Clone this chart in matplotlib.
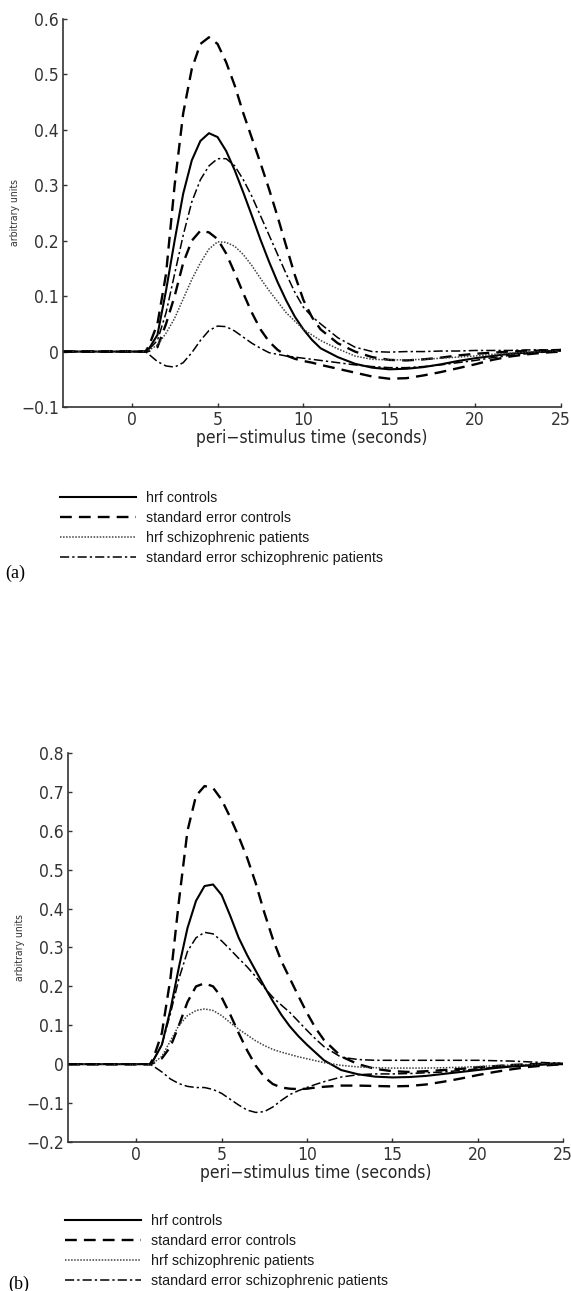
import matplotlib
matplotlib.use("Agg")
import matplotlib.pyplot as plt

# time axis (seconds), shared by every curve
t = [-4, 0.8, 1, 1.5, 2, 2.5, 3, 3.5, 4, 4.5, 5, 5.5, 6, 6.5, 7, 7.5, 8, 8.5, 9, 9.5,
     10, 10.5, 11, 12, 13, 14, 15, 16, 17, 18, 19, 20, 21, 22, 23, 24, 25]

# panel (a)
a_hrf_ctrl = [0, 0, 0.005, 0.03, 0.11, 0.2, 0.285, 0.345, 0.38, 0.394, 0.387, 0.362, 0.327, 0.287,
              0.245, 0.202, 0.162, 0.125, 0.092, 0.063, 0.04, 0.021, 0.006, -0.01, -0.022, -0.029,
              -0.032, -0.031, -0.028, -0.023, -0.017, -0.012, -0.008, -0.004, -0.002, 0, 0.003]
a_se_ctrl_hi = [0, 0, 0.01, 0.05, 0.14, 0.3, 0.43, 0.51, 0.555, 0.567, 0.555, 0.522, 0.48, 0.43,
                0.385, 0.34, 0.293, 0.243, 0.19, 0.138, 0.093, 0.062, 0.04, 0.015, 0.0, -0.01,
                -0.015, -0.016, -0.014, -0.011, -0.007, -0.004, -0.002, 0, 0.001, 0.002, 0.003]
a_se_ctrl_lo = [0, 0, 0.001, 0.008, 0.05, 0.1, 0.16, 0.2, 0.218, 0.215, 0.203, 0.177, 0.142, 0.105,
                0.07, 0.04, 0.018, 0.003, -0.007, -0.013, -0.017, -0.02, -0.024, -0.031, -0.038,
                -0.045, -0.049, -0.048, -0.043, -0.037, -0.03, -0.023, -0.015, -0.009, -0.005, -0.002, 0]
a_hrf_schz = [0, 0, 0.002, 0.012, 0.033, 0.06, 0.095, 0.13, 0.16, 0.185, 0.198, 0.197, 0.19, 0.175,
              0.155, 0.132, 0.11, 0.09, 0.07, 0.055, 0.04, 0.03, 0.02, 0.005, -0.008, -0.014,
              -0.015, -0.015, -0.014, -0.012, -0.01, -0.008, -0.005, -0.003, -0.001, 0, 0.002]
a_se_schz_hi = [0, 0, 0.004, 0.02, 0.07, 0.14, 0.21, 0.27, 0.31, 0.335, 0.348, 0.348, 0.335, 0.31,
                0.28, 0.245, 0.21, 0.175, 0.14, 0.107, 0.08, 0.063, 0.05, 0.025, 0.008, 0.0,
                -0.001, 0, 0, 0.001, 0.001, 0.002, 0.002, 0.002, 0.003, 0.003, 0.003]
a_se_schz_lo = [0, 0, -0.005, -0.018, -0.026, -0.028, -0.02, -0.002, 0.02, 0.038, 0.046, 0.045,
                0.037, 0.026, 0.015, 0.006, -0.002, -0.005, -0.008, -0.01, -0.012, -0.014, -0.016,
                -0.02, -0.024, -0.027, -0.029, -0.029, -0.027, -0.024, -0.02, -0.016, -0.011,
                -0.007, -0.004, -0.001, 0.001]

# panel (b)
b_hrf_ctrl = [0, 0, 0.01, 0.05, 0.14, 0.25, 0.35, 0.42, 0.458, 0.462, 0.435, 0.382, 0.325, 0.28,
              0.24, 0.2, 0.162, 0.127, 0.097, 0.072, 0.05, 0.03, 0.01, -0.015, -0.026, -0.032,
              -0.034, -0.033, -0.03, -0.025, -0.02, -0.015, -0.01, -0.006, -0.003, 0, 0]
b_se_ctrl_hi = [0, 0, 0.015, 0.08, 0.22, 0.42, 0.6, 0.69, 0.715, 0.71, 0.68, 0.635, 0.585, 0.53,
                0.465, 0.39, 0.322, 0.265, 0.22, 0.175, 0.132, 0.093, 0.062, 0.02, 0.0, -0.012,
                -0.018, -0.02, -0.018, -0.015, -0.012, -0.008, -0.005, -0.002, 0, 0.001, 0.002]
b_se_ctrl_lo = [0, 0, 0.003, 0.015, 0.045, 0.1, 0.16, 0.2, 0.208, 0.2, 0.172, 0.128, 0.08, 0.035,
                -0.004, -0.033, -0.051, -0.06, -0.063, -0.064, -0.063, -0.06, -0.058, -0.055,
                -0.055, -0.056, -0.057, -0.056, -0.052, -0.045, -0.037, -0.028, -0.02, -0.013,
                -0.007, -0.003, 0]
b_hrf_schz = [0, 0, 0.003, 0.02, 0.06, 0.1, 0.125, 0.138, 0.142, 0.138, 0.125, 0.107, 0.09, 0.075,
              0.06, 0.048, 0.038, 0.031, 0.025, 0.019, 0.014, 0.009, 0.004, -0.003, -0.007, -0.009,
              -0.01, -0.01, -0.01, -0.009, -0.008, -0.006, -0.004, -0.002, -0.001, 0, 0.002]
b_se_schz_hi = [0, 0, 0.01, 0.05, 0.13, 0.22, 0.29, 0.325, 0.339, 0.335, 0.317, 0.295, 0.272, 0.25,
                0.225, 0.197, 0.172, 0.152, 0.133, 0.11, 0.087, 0.065, 0.045, 0.018, 0.012, 0.01,
                0.01, 0.01, 0.01, 0.01, 0.01, 0.01, 0.009, 0.008, 0.006, 0.004, 0.002]
b_se_schz_lo = [0, 0, -0.005, -0.02, -0.038, -0.05, -0.057, -0.06, -0.06, -0.065, -0.075, -0.09,
                -0.105, -0.118, -0.124, -0.122, -0.11, -0.093, -0.078, -0.068, -0.06, -0.052,
                -0.045, -0.033, -0.027, -0.025, -0.025, -0.024, -0.022, -0.02, -0.016, -0.012,
                -0.008, -0.005, -0.003, -0.001, 0]

labels = ["hrf controls", "standard error controls",
          "hrf schizophrenic patients", "standard error schizophrenic patients"]

# narrow-ish sans for the axis text (matlab look)
axis_font = dict(family="DejaVu Sans", stretch="condensed")
sty_solid = dict(color="black", lw=1.5, ls="-")
sty_dash = dict(color="black", lw=1.7, ls=(0, (5, 3)))
sty_dot = dict(color="0.25", lw=1.1, ls=(0, (1, 1)))
sty_dashdot = dict(color="black", lw=1.1, ls=(0, (6, 2, 1.5, 2)))

fig = plt.figure(figsize=(5.71, 12.91), dpi=100)


def panel(rect, hrf_c, se_c_hi, se_c_lo, hrf_s, se_s_hi, se_s_lo, ylim, yticks,
          ylab_x, leg_xy, tag, tag_xy):
    ax = fig.add_axes(rect)
    h1, = ax.plot(t, hrf_c, **sty_solid)
    h2, = ax.plot(t, se_c_hi, **sty_dash)
    ax.plot(t, se_c_lo, **sty_dash)
    h3, = ax.plot(t, hrf_s, **sty_dot)
    h4, = ax.plot(t, se_s_hi, **sty_dashdot)
    ax.plot(t, se_s_lo, **sty_dashdot)
    ax.set_xlim(-4, 25)
    ax.set_ylim(*ylim)
    ax.set_xticks([0, 5, 10, 15, 20, 25])
    ax.set_yticks(yticks)
    ax.set_yticklabels([f"{v:g}".replace("-", "\u2212") for v in yticks])
    for s in ["top", "right"]:
        ax.spines[s].set_visible(False)
    for s in ["left", "bottom"]:
        ax.spines[s].set_linewidth(1.2)
        ax.spines[s].set_color("0.2")
    ax.tick_params(direction="in", length=3, width=1, colors="0.2", pad=3,
                   labelsize=12.5, labelcolor="0.2")
    for lab in ax.get_xticklabels() + ax.get_yticklabels():
        lab.set_family(axis_font["family"])
        lab.set_stretch(axis_font["stretch"])
    ax.set_xlabel("peri\u2212stimulus time (seconds)", fontsize=12.5, color="0.15",
                  labelpad=0, **axis_font)
    fig.text(ylab_x, rect[1] + rect[3] / 2, "arbitrary units", rotation=90,
             fontsize=7.5, color="0.2", ha="center", va="center", **axis_font)
    leg = fig.legend([h1, h2, h3, h4], labels, loc="upper left",
                     bbox_to_anchor=leg_xy, frameon=False, fontsize=10.3,
                     handlelength=5.3, handletextpad=0.7, labelspacing=0.42,
                     borderaxespad=0, borderpad=0)
    for tx in leg.get_texts():
        tx.set_family(["Liberation Sans", "DejaVu Sans"])
        tx.set_color("0.1")
    fig.text(tag_xy[0], tag_xy[1], tag, fontsize=13, family=["Liberation Serif", "DejaVu Serif"],
             ha="left", va="center")
    return ax


panel([63 / 571, 1 - 407 / 1291, 498 / 571, 388 / 1291],
      a_hrf_ctrl, a_se_ctrl_hi, a_se_ctrl_lo, a_hrf_schz, a_se_schz_hi, a_se_schz_lo,
      (-0.1, 0.6), [-0.1, 0, 0.1, 0.2, 0.3, 0.4, 0.5, 0.6],
      15 / 571, (60 / 571, 1 - 491 / 1291), "(a)", (5 / 571, 1 - 573 / 1291))

panel([68 / 571, 1 - 1142 / 1291, 495 / 571, 389 / 1291],
      b_hrf_ctrl, b_se_ctrl_hi, b_se_ctrl_lo, b_hrf_schz, b_se_schz_hi, b_se_schz_lo,
      (-0.2, 0.8), [-0.2, -0.1, 0, 0.1, 0.2, 0.3, 0.4, 0.5, 0.6, 0.7, 0.8],
      20 / 571, (65 / 571, 1 - 1214 / 1291), "(b)", (8 / 571, 1 - 1284 / 1291))

fig.savefig("out.png", dpi=100)
